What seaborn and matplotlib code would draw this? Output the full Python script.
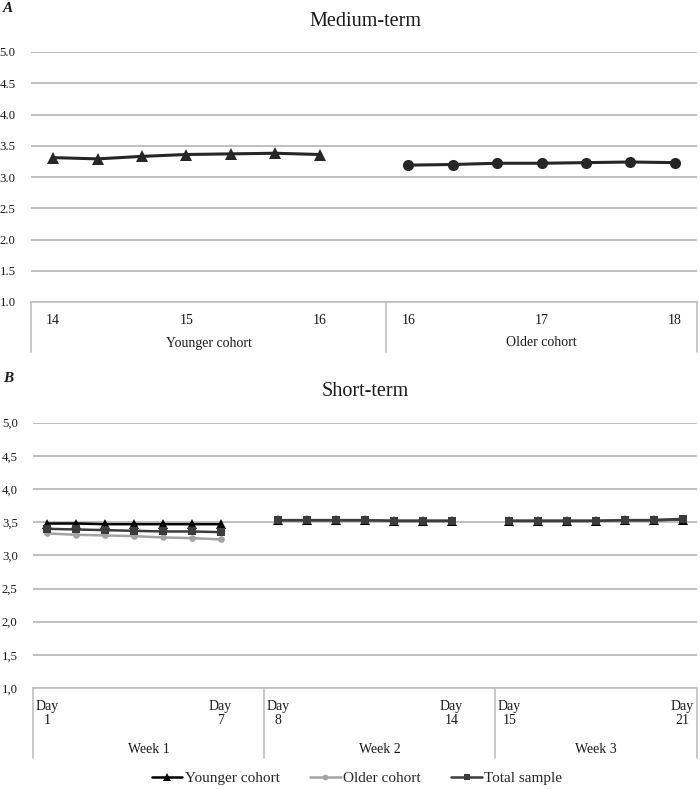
import numpy as np
import pandas as pd
import matplotlib
matplotlib.use("Agg")
import matplotlib.pyplot as plt
import seaborn as sns
from matplotlib.lines import Line2D

sns.set_theme(style="white")
plt.rcParams["font.family"] = ["Liberation Serif", "DejaVu Serif"]

# ---------------- data ----------------
cohort_labels = ["Younger cohort", "Older cohort"]
age_ticks_young = ["14", "15", "16"]
age_ticks_old = ["16", "17", "18"]
medium_young = [3.31, 3.29, 3.33, 3.36, 3.37, 3.38, 3.36]
medium_old = [3.19, 3.20, 3.22, 3.22, 3.23, 3.24, 3.23]

week_labels = ["Week 1", "Week 2", "Week 3"]
day_labels = [["Day\n1", "Day\n7"], ["Day\n8", "Day\n14"], ["Day\n15", "Day\n21"]]
series_names = ["Younger cohort", "Older cohort", "Total sample"]
short_young = [[3.48, 3.48, 3.47, 3.47, 3.47, 3.47, 3.47],
               [3.53, 3.53, 3.53, 3.53, 3.52, 3.52, 3.52],
               [3.52, 3.52, 3.52, 3.52, 3.53, 3.53, 3.54]]
short_old = [[3.33, 3.31, 3.30, 3.29, 3.27, 3.26, 3.24],
             [3.53, 3.53, 3.53, 3.53, 3.52, 3.52, 3.52],
             [3.52, 3.52, 3.52, 3.52, 3.53, 3.53, 3.55]]
short_total = [[3.40, 3.39, 3.38, 3.37, 3.36, 3.36, 3.35],
               [3.53, 3.53, 3.53, 3.53, 3.52, 3.52, 3.52],
               [3.52, 3.52, 3.52, 3.52, 3.53, 3.53, 3.55]]

yticks_A = ["1.0", "1.5", "2.0", "2.5", "3.0", "3.5", "4.0", "4.5", "5.0"]
yticks_B = ["1,0", "1,5", "2,0", "2,5", "3,0", "3,5", "4,0", "4,5", "5,0"]

# ---------------- layout helpers ----------------
GROUP_SLOTS = 8  # slots per group (last group has one fewer, as in the original)
GRID = "#bfbfbf"
TXT = "#1a1a1a"

fig = plt.figure(figsize=(7.0, 7.89), dpi=100)
axA = fig.add_axes([31 / 700, 1 - 302 / 789, 666 / 700, 250 / 789])
axB = fig.add_axes([33 / 700, 1 - 688 / 789, 664 / 700, 265.3 / 789])


def style_axis(ax, labels, nslots, ngroups, box_depth):
    ax.set_ylim(1, 5)
    ax.set_xlim(-0.5, nslots - 0.5)
    ticks = np.arange(1.0, 5.01, 0.5)
    ax.set_yticks(ticks)
    ax.set_yticklabels(labels, fontsize=9.2, color=TXT)
    ax.tick_params(axis="y", length=0, pad=11)
    ax.set_xticks([])
    for sp in ["top", "right", "left"]:
        ax.spines[sp].set_visible(False)
    ax.spines["bottom"].set_color(GRID)
    ax.spines["bottom"].set_linewidth(1.2)
    ax.yaxis.grid(True, color=GRID, linewidth=1.4)
    ax.set_axisbelow(True)
    trans = ax.get_xaxis_transform()
    bounds = [-0.5] + [g * GROUP_SLOTS - 0.5 for g in range(1, ngroups)] + [nslots - 0.5]
    for b in bounds:
        ax.plot([b, b], [0, -box_depth], transform=trans, color=GRID,
                linewidth=1.2, clip_on=False)
    return bounds


# ---------------- Panel A ----------------
rowsA = []
for g, (name, vals) in enumerate(zip(cohort_labels, [medium_young, medium_old])):
    for i, v in enumerate(vals):
        rowsA.append({"series": name, "x": g * GROUP_SLOTS + i, "y": v})
dfA = pd.DataFrame(rowsA)

boundsA = style_axis(axA, yticks_A, 15, 2, 0.20)
markersA = {"Younger cohort": "^", "Older cohort": "o"}
sizesA = {"Younger cohort": 8.5, "Older cohort": 8.0}
for name in cohort_labels:
    sub = dfA[dfA["series"] == name]
    sns.lineplot(data=sub, x="x", y="y", ax=axA, color="#262626", linewidth=2.2,
                 marker=markersA[name], markersize=sizesA[name],
                 markeredgewidth=0, estimator=None, sort=False, legend=False)
axA.set_xlabel("")
axA.set_ylabel("")

transA = axA.get_xaxis_transform()
for g, ticks in enumerate([age_ticks_young, age_ticks_old]):
    for k, t in enumerate(ticks):
        axA.text(g * GROUP_SLOTS + k * 3, -0.072, t, transform=transA,
                 ha="center", va="center", fontsize=10, color=TXT)
    axA.text((boundsA[g] + boundsA[g + 1]) / 2, -0.164, cohort_labels[g],
             transform=transA, ha="center", va="center", fontsize=10, color=TXT)

fig.text(365 / 700, 1 - 21 / 789, "Medium-term", ha="center", va="center",
         fontsize=14.5, color=TXT)
fig.text(3 / 700, 1 - 9 / 789, "A", ha="left", va="center", fontsize=11,
         fontweight="bold", fontstyle="italic", color=TXT)

# ---------------- Panel B ----------------
rowsB = []
for name, weeks in zip(series_names, [short_young, short_old, short_total]):
    for w, vals in enumerate(weeks):
        for i, v in enumerate(vals):
            rowsB.append({"series": name, "week": w, "x": w * GROUP_SLOTS + i, "y": v})
dfB = pd.DataFrame(rowsB)

boundsB = style_axis(axB, yticks_B, 23, 3, 0.264)
styleB = {
    "Younger cohort": dict(color="#000000", marker="^", markersize=6.5),
    "Older cohort": dict(color="#a3a3a3", marker="o", markersize=4.8),
    "Total sample": dict(color="#3c3c3c", marker="s", markersize=5.6),
}
for name in series_names:
    sub = dfB[dfB["series"] == name]
    st = styleB[name]
    sns.lineplot(data=sub, x="x", y="y", units="week", estimator=None, ax=axB,
                 color=st["color"], marker=st["marker"], markersize=st["markersize"],
                 markeredgewidth=0, linewidth=1.8, sort=False, legend=False)
axB.set_xlabel("")
axB.set_ylabel("")

transB = axB.get_xaxis_transform()
for w in range(3):
    for k, t in enumerate(day_labels[w]):
        axB.text(w * GROUP_SLOTS + k * 6, -0.098, t, transform=transB,
                 ha="center", va="center", fontsize=10, color=TXT,
                 linespacing=1.1)
    axB.text((boundsB[w] + boundsB[w + 1]) / 2, -0.23, week_labels[w],
             transform=transB, ha="center", va="center", fontsize=10, color=TXT)

fig.text(365 / 700, 1 - 392 / 789, "Short-term", ha="center", va="center",
         fontsize=14.5, color=TXT)
fig.text(3 / 700, 1 - 378 / 789, "B", ha="left", va="center", fontsize=11,
         fontweight="bold", fontstyle="italic", color=TXT)

handles = [Line2D([], [], color=styleB[n]["color"], marker=styleB[n]["marker"],
                  markersize=styleB[n]["markersize"] * 0.85, markeredgewidth=0,
                  linewidth=1.8) for n in series_names]
fig.legend(handles, series_names, loc="center", bbox_to_anchor=(0.51, 1 - 778 / 789),
           ncol=3, frameon=False, fontsize=11, handlelength=2.0,
           handletextpad=0.15, columnspacing=2.0)

fig.savefig("out.png", dpi=100)
